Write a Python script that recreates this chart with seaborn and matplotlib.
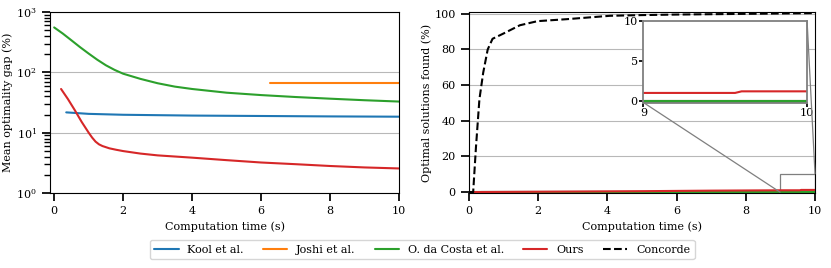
import matplotlib
matplotlib.use("Agg")
import matplotlib.pyplot as plt
import seaborn as sns
from mpl_toolkits.axes_grid1.inset_locator import mark_inset

# -------------------------- Data --------------------------
labels = ["Kool et al.", "Joshi et al.", "O. da Costa et al.", "Ours", "Concorde"]
colors = ["#1f77b4", "#ff7f0e", "#2ca02c", "#d62728", "black"]

# Mean optimality gap (%) vs computation time (s)
kool_t = [0.35, 1.0, 2.0, 4.0, 6.0, 8.0, 10.0]
kool_gap = [21.7, 20.5, 19.8, 19.2, 18.9, 18.6, 18.4]
joshi_t = [6.25, 10.0]
joshi_gap = [66.0, 66.0]
costa_t = [0.0, 0.25, 0.5, 0.75, 1.0, 1.25, 1.5, 1.75, 2.0, 2.5, 3.0, 3.5, 4.0,
           5.0, 6.0, 7.0, 8.0, 9.0, 10.0]
costa_gap = [556, 440, 340, 262, 205, 162, 131, 110, 95, 78, 66, 58, 53,
             46, 42, 39, 36.6, 34.5, 32.8]
ours_t = [0.2, 0.4, 0.6, 0.8, 1.0, 1.1, 1.2, 1.3, 1.4, 1.6, 1.8, 2.0, 2.5, 3.0,
          4.0, 5.0, 6.0, 7.0, 8.0, 9.0, 10.0]
ours_gap = [53, 36, 23.5, 15, 10, 8.3, 7.1, 6.4, 6.0, 5.5, 5.2, 4.95, 4.5, 4.2,
            3.85, 3.5, 3.2, 3.0, 2.8, 2.65, 2.55]

# Optimal solutions found (%) vs computation time (s)
kool_opt_t = [0.35, 10.0]
kool_opt = [0.0, 0.0]
joshi_opt_t = [6.25, 10.0]
joshi_opt = [0.0, 0.0]
costa_opt_t = [0.0, 10.0]
costa_opt = [0.0, 0.0]
ours_opt_t = [0.0, 2.0, 4.0, 5.0, 6.0, 7.0, 8.0, 9.0, 9.56, 9.6, 10.0]
ours_opt = [0.0, 0.2, 0.4, 0.5, 0.65, 0.8, 0.9, 1.0, 1.0, 1.2, 1.2]
conc_t = [0.0, 0.12, 0.2, 0.3, 0.41, 0.54, 0.68, 1.0, 1.47, 1.98, 2.82, 4.07,
          5.0, 6.0, 8.0, 10.0]
conc_opt = [0.0, 0.0, 25.0, 52.0, 67.0, 80.0, 86.0, 89.0, 93.6, 95.9, 97.0, 98.9,
            99.3, 99.6, 100.0, 100.4]

# -------------------------- Style --------------------------
sns.set_theme(style="ticks")
plt.rcParams["font.family"] = ["DejaVu Serif"]
plt.rcParams["mathtext.fontset"] = "dejavuserif"
plt.rcParams.update({
    "font.size": 8,
    "axes.labelsize": 8,
    "xtick.labelsize": 8,
    "ytick.labelsize": 8,
    "legend.fontsize": 8,
    "axes.edgecolor": "black",
    "axes.linewidth": 0.8,
    "xtick.color": "black",
    "ytick.color": "black",
    "axes.labelcolor": "black",
    "text.color": "black",
})

fig = plt.figure(figsize=(8.31, 2.68), dpi=100)
ax1 = fig.add_axes([0.0602, 0.280, 0.4200, 0.675])
ax2 = fig.add_axes([0.5644, 0.280, 0.4164, 0.675])


def line(ax, x, y, color, ls="-", lw=1.5, label=None):
    sns.lineplot(x=x, y=y, ax=ax, color=color, linestyle=ls, linewidth=lw,
                 sort=False, estimator=None, label=label, legend=False)


# -------------------- Left panel --------------------
line(ax1, kool_t, kool_gap, colors[0])
line(ax1, joshi_t, joshi_gap, colors[1])
line(ax1, costa_t, costa_gap, colors[2])
line(ax1, ours_t, ours_gap, colors[3])
ax1.set_yscale("log")
ax1.set_ylim(1, 1000)
ax1.set_xlim(-0.12, 10)
ax1.set_xticks([0, 2, 4, 6, 8, 10])
ax1.set_xlabel("Computation time (s)")
ax1.set_ylabel("Mean optimality gap (%)", labelpad=2)
ax1.yaxis.grid(True, which="major", color="#b8b8b8", linewidth=0.8)
ax1.set_axisbelow(True)

# -------------------- Right panel --------------------
for x, y, c, lab in [(kool_opt_t, kool_opt, colors[0], labels[0]),
                     (joshi_opt_t, joshi_opt, colors[1], labels[1]),
                     (costa_opt_t, costa_opt, colors[2], labels[2]),
                     (ours_opt_t, ours_opt, colors[3], labels[3])]:
    line(ax2, x, y, c, label=lab)
line(ax2, conc_t, conc_opt, colors[4], ls="--", label=labels[4])
ax2.set_xlim(0, 10)
ax2.set_ylim(-0.5, 101)
ax2.set_xticks([0, 2, 4, 6, 8, 10])
ax2.set_yticks([0, 20, 40, 60, 80, 100])
ax2.set_xlabel("Computation time (s)")
ax2.set_ylabel("Optimal solutions found (%)", labelpad=2)
ax2.yaxis.grid(True, color="#b8b8b8", linewidth=0.8)
ax2.set_axisbelow(True)

# inset zoom
axins = ax2.inset_axes([0.504, 0.5, 0.473, 0.45])
line(axins, kool_opt_t, kool_opt, colors[0])
line(axins, joshi_opt_t, joshi_opt, colors[1])
line(axins, costa_opt_t, costa_opt, colors[2], lw=2.2)
line(axins, ours_opt_t, ours_opt, colors[3])
line(axins, conc_t, conc_opt, colors[4], ls="--")
axins.set_xlim(9, 10)
axins.set_ylim(-0.2, 10)
axins.set_xticks([9, 10])
axins.set_yticks([0, 5, 10])
axins.set_xlabel("")
axins.set_ylabel("")
axins.set_facecolor("white")
axins.tick_params(pad=1, length=3)
for sp in axins.spines.values():
    sp.set_color("#7f7f7f")
    sp.set_linewidth(1.3)
mark_inset(ax2, axins, loc1=3, loc2=1, fc="none", ec="#7f7f7f", lw=0.9)

# -------------------- Legend --------------------
h, l = ax2.get_legend_handles_labels()
fig.legend(h, l, loc="center", bbox_to_anchor=(0.508, 0.069), ncol=5,
           frameon=True, fancybox=True, edgecolor="#cccccc",
           handlelength=2.2, columnspacing=1.7, borderpad=0.4)

fig.savefig("out.png", dpi=100)
